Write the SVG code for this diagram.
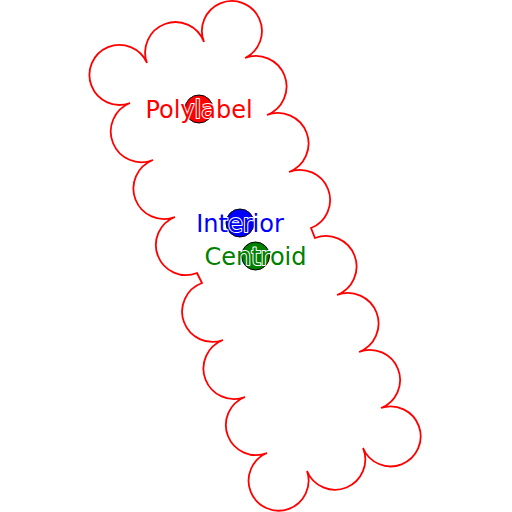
<svg xmlns="http://www.w3.org/2000/svg" width="512" height="512" viewBox="0 0 512 512">
<style>
.shape{fill:none;stroke:#ff0000;stroke-width:1.8;stroke-linejoin:miter}
.dot{stroke:#000;stroke-width:1}
.lbl{font-family:"DejaVu Sans",sans-serif;font-size:24px;text-anchor:middle;stroke:#fff;stroke-width:2;paint-order:stroke;stroke-linejoin:round}
</style>
<rect width="512" height="512" fill="#fff"/>
<g id="polygon">
<path class="shape" d="M147,63 A30 30 0 1 1 204,42 A30 30 0 1 1 245,58 A30 30 0 1 1 267,115 A30 30 0 1 1 289,172 A30 30 0 1 1 311,228 L315,238 A30 30 0 1 1 337,295 A30 30 0 1 1 359,352 A30 30 0 1 1 381,408 A30 30 0 1 1 363,448 A30 30 0 1 1 307,471 A30 30 0 1 1 267,453 A30 30 0 1 1 245,397 A30 30 0 1 1 223,340 A30 30 0 1 1 202,283 L197,273 A30 30 0 1 1 175,217 A30 30 0 1 1 153,160 A30 30 0 1 1 130,103 A30 30 0 1 1 147,63 Z"/>
</g>
<g id="connectors"></g>
<g id="polylabel">
<circle class="dot" cx="199" cy="109" r="14" fill="#ff0000"/>
<text class="lbl" x="199" y="117.5" fill="#ff0000">Polylabel</text>
</g>
<g id="interior">
<circle class="dot" cx="240" cy="223" r="14" fill="#0000ff"/>
<text class="lbl" x="240" y="231.5" fill="#0000ff">Interior</text>
</g>
<g id="centroid">
<circle class="dot" cx="255.5" cy="256" r="14" fill="#008000"/>
<text class="lbl" x="255.5" y="264.5" fill="#008000">Centroid</text>
</g>
</svg>
